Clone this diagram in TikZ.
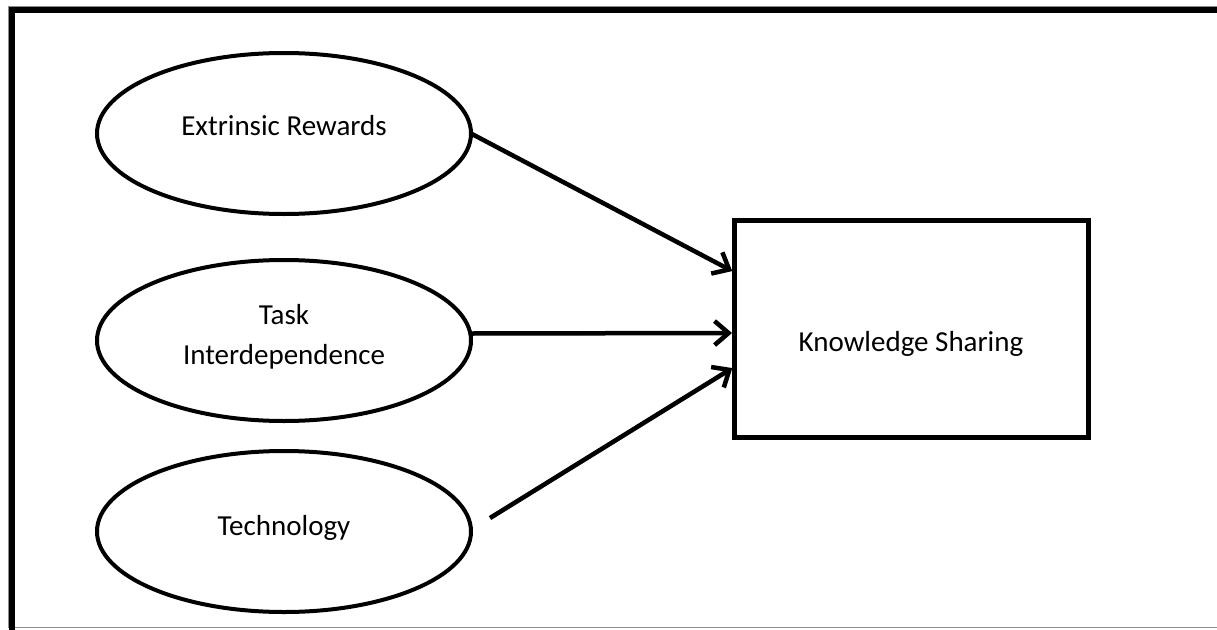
\documentclass[tikz,border=0pt]{standalone}
\usepackage{fontspec}
\setmainfont{Carlito}
\usetikzlibrary{shapes.geometric,arrows.meta,calc}
\begin{document}
\begin{tikzpicture}[x=1pt,y=-1pt,
  oval/.style={ellipse,draw,line width=4pt,minimum width=374pt,minimum height=161pt,inner sep=0pt,outer sep=0pt},
  lbl/.style={font=\fontsize{29}{40}\selectfont,align=center,inner sep=0pt},
  ksbox/.style={draw,line width=5pt,minimum width=354pt,minimum height=217pt,inner sep=0pt,outer sep=0pt},
  link/.style={line width=4.5pt,-{Straight Barb[length=14pt,width=24pt]},shorten >=2pt,
     preaction={draw=black!35,transform canvas={shift={(1.5pt,-1.5pt)}}}},
  frameline/.style={line width=6pt},
]
\useasboundingbox (0,0) rectangle (1217,629);
\clip (0,0) rectangle (1217,629);
\fill[white] (0,0) rectangle (1217,629);
% frame
\draw[black!45,line width=1pt] (8.5,6.5) rectangle (1230,627.5);
\draw[frameline] (9,10) -- (1230,10);
\draw[frameline] (12,7) -- (12,640);
% ellipses
\node[oval] (e1) at (284,133.5) {};
\node[oval] (e2) at (284,340.5) {};
\node[oval] (e3) at (284,531.5) {};
\node[lbl] (t1) at (284,126) {Extrinsic Rewards};
\node[lbl] (t2) at (284,337) {Task\\Interdependence};
\node[lbl] (t3) at (284,528) {Technology};
% box
\node[ksbox] (ks) at (911,328.5) {};
\node[lbl,text height=0.64em,text depth=0pt] (kst) at (911,348) {Knowledge Sharing};
% connectors
\coordinate (s3) at (490,518);
\draw[link] (e1.east) -- ($(ks.west)+(0,-56.5)$);
\draw[link] ($(e2.east)+(0,-7)$) -- ($(ks.west)+(0,4.5)$);
\draw[link] (s3) -- ($(ks.west)+(0,38.5)$);
\end{tikzpicture}
\end{document}
